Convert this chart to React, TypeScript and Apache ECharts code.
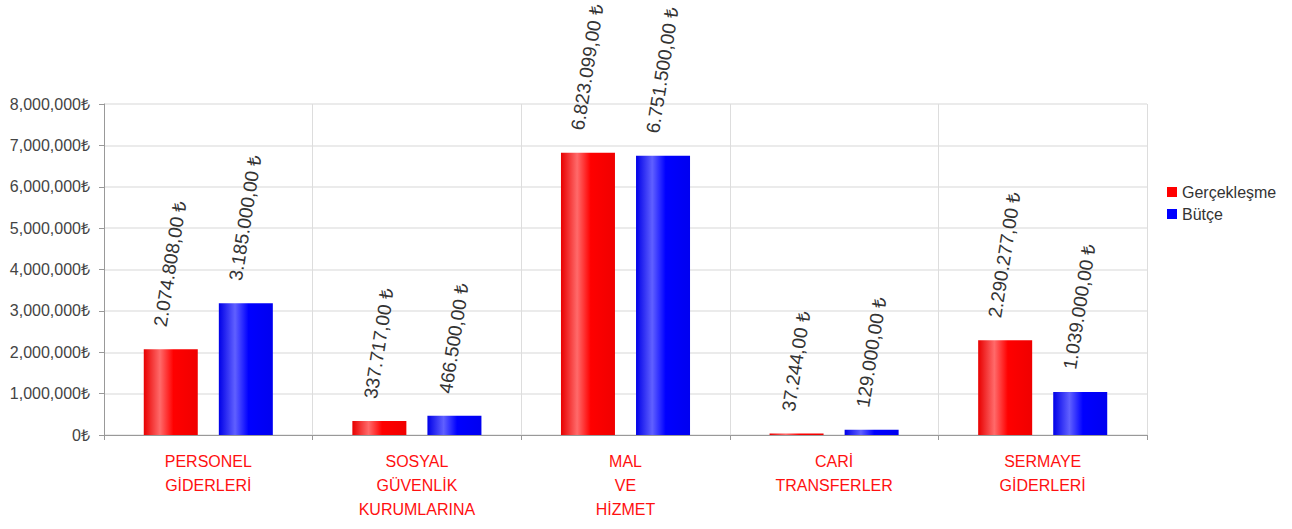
import React, { useEffect, useRef } from 'react';
import * as echarts from 'echarts';

const categories = [
  'PERSONEL\nGİDERLERİ',
  'SOSYAL\nGÜVENLİK\nKURUMLARINA',
  'MAL\nVE\nHİZMET',
  'CARİ\nTRANSFERLER',
  'SERMAYE\nGİDERLERİ',
];
const actualName = 'Gerçekleşme';
const budgetName = 'Bütçe';
const actual = [2074808, 337717, 6823099, 37244, 2290277];
const budget = [3185000, 466500, 6751500, 129000, 1039000];
const yMin = 0;
const yMax = 8000000;
const yInterval = 1000000;

const FONT = '"Liberation Sans", Arial, sans-serif';

function group(n: number, sep: string) {
  return String(Math.trunc(n)).replace(/\B(?=(\d{3})+(?!\d))/g, sep);
}
function trLabel(v: number) {
  const fixed = v.toFixed(2);
  const [i, d] = fixed.split('.');
  return group(Number(i), '.') + ',' + d + ' ₺';
}
function yLabel(v: number) {
  return group(v, ',') + '₺';
}

function barGradient(edge: string, light: string, main: string, dark: string) {
  return new echarts.graphic.LinearGradient(0, 0, 1, 0, [
    { offset: 0, color: edge },
    { offset: 0.3, color: light },
    { offset: 0.55, color: main },
    { offset: 1, color: dark },
  ]);
}

function makeData(values: number[]) {
  return values.map((v) => {
    const len = trLabel(v).length * 9.8;
    return {
      value: v,
      label: { offset: [0, -0.078 * len] },
    };
  });
}

export default function App() {
  const ref = useRef<HTMLDivElement>(null);
  useEffect(() => {
    document.body.style.margin = '0';
    const chart = echarts.init(ref.current!, undefined, { renderer: 'svg' });
    const labelCfg = {
      show: true,
      position: 'top',
      distance: 21,
      rotate: 81,
      align: 'left',
      verticalAlign: 'middle',
      formatter: (p: any) => trLabel(p.value),
      fontFamily: FONT,
      fontSize: 19,
      color: '#333',
    };
    chart.setOption({
      animation: false,
      backgroundColor: '#fff',
      textStyle: { fontFamily: FONT },
      grid: { left: 104, right: 145, top: 104, bottom: 94, containLabel: false },
      legend: {
        orient: 'vertical',
        left: 1162,
        top: 179,
        itemWidth: 10,
        itemHeight: 10,
        itemGap: 6,
        icon: 'rect',
        textStyle: { fontFamily: FONT, fontSize: 16, color: '#333' },
        data: [
          { name: actualName, itemStyle: { color: '#ff0000' } },
          { name: budgetName, itemStyle: { color: '#0000ff' } },
        ],
      },
      xAxis: {
        type: 'category',
        data: categories,
        axisLine: { lineStyle: { color: '#999', width: 1 } },
        axisTick: { show: true, length: 5, lineStyle: { color: '#999' } },
        splitLine: { show: true, lineStyle: { color: '#ddd', width: 1 } },
        axisLabel: {
          color: '#ff1010',
          fontFamily: FONT,
          fontSize: 16,
          lineHeight: 24,
          margin: 14,
          interval: 0,
        },
      },
      yAxis: {
        type: 'value',
        min: yMin,
        max: yMax,
        interval: yInterval,
        axisLine: { show: true, lineStyle: { color: '#999', width: 1 } },
        axisTick: { show: true, length: 5, lineStyle: { color: '#999' } },
        splitLine: { show: true, lineStyle: { color: '#ebebeb', width: 2 } },
        axisLabel: {
          formatter: yLabel,
          color: '#444',
          fontFamily: FONT,
          fontSize: 16,
          margin: 14,
        },
      },
      series: [
        {
          name: actualName,
          type: 'bar',
          barWidth: 54,
          barGap: '39%',
          data: makeData(actual),
          itemStyle: {
            color: barGradient('#e80000', '#ff6a6a', '#ff0000', '#f00000'),
          },
          label: labelCfg,
        },
        {
          name: budgetName,
          type: 'bar',
          barWidth: 54,
          data: makeData(budget),
          itemStyle: {
            color: barGradient('#0000e8', '#6060ff', '#0000ff', '#0000f0'),
          },
          label: labelCfg,
        },
      ],
    });
    return () => chart.dispose();
  }, []);
  return <div ref={ref} style={{ width: 1292, height: 529 }} />;
}
